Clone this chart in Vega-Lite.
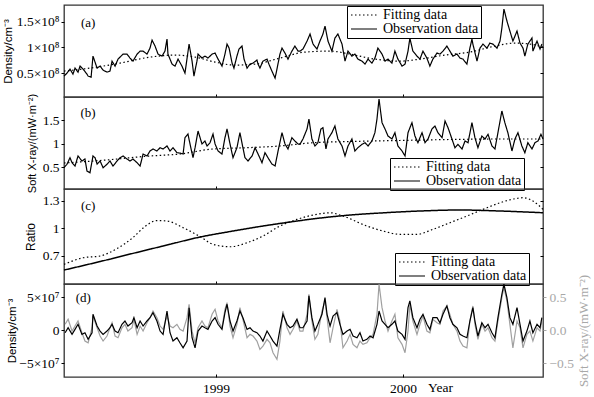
{
"$schema": "https://vega.github.io/schema/vega-lite/v6.json",
"padding": {"left": 1, "top": 4, "right": 2, "bottom": 2},
"bounds": "flush",
"spacing": 0,
"config": {
  "view": {"stroke": "#333", "strokeWidth": 1.3},
  "axis": {"grid": false, "domain": false, "labelFont": "Liberation Serif", "labelFontSize": 13.5, "labelColor": "black", "tickColor": "black", "tickSize": 3, "labelPadding": 2, "titleFont": "Liberation Sans", "titleFontSize": 12, "titleFontWeight": "normal", "titleColor": "black", "titlePadding": 4},
  "legend": {"labelFont": "Liberation Serif", "labelFontSize": 14, "labelColor": "black"}
},
"resolve": {"scale": {"strokeDash": "independent"}, "legend": {"strokeDash": "independent"}},
"datasets": {
"a_obs": [{"t":1998.187,"v":4.44e7},{"t":1998.203,"v":5.02e7},{"t":1998.219,"v":5.79e7},{"t":1998.235,"v":4.83e7},{"t":1998.246,"v":5.99e7},{"t":1998.262,"v":5.21e7},{"t":1998.273,"v":6.38e7},{"t":1998.289,"v":5.79e7},{"t":1998.31,"v":4.83e7},{"t":1998.316,"v":4.44e7},{"t":1998.332,"v":4.24e7},{"t":1998.342,"v":8.31e7},{"t":1998.364,"v":5.99e7},{"t":1998.38,"v":6.38e7},{"t":1998.396,"v":5.6e7},{"t":1998.417,"v":5.21e7},{"t":1998.433,"v":5.41e7},{"t":1998.444,"v":7.34e7},{"t":1998.46,"v":6.38e7},{"t":1998.476,"v":7.73e7},{"t":1998.492,"v":8.31e7},{"t":1998.503,"v":8.7e7},{"t":1998.524,"v":8.7e7},{"t":1998.54,"v":7.93e7},{"t":1998.556,"v":7.34e7},{"t":1998.578,"v":8.7e7},{"t":1998.594,"v":9.28e7},{"t":1998.61,"v":9.28e7},{"t":1998.631,"v":8.7e7},{"t":1998.647,"v":9.86e7},{"t":1998.658,"v":11.41e7},{"t":1998.674,"v":10.25e7},{"t":1998.69,"v":8.7e7},{"t":1998.711,"v":8.31e7},{"t":1998.727,"v":9.28e7},{"t":1998.738,"v":11.61e7},{"t":1998.743,"v":8.7e7},{"t":1998.765,"v":6.76e7},{"t":1998.781,"v":6.38e7},{"t":1998.797,"v":7.73e7},{"t":1998.818,"v":6.38e7},{"t":1998.834,"v":5.02e7},{"t":1998.856,"v":10.64e7},{"t":1998.872,"v":7.34e7},{"t":1998.882,"v":4.44e7},{"t":1998.898,"v":7.34e7},{"t":1998.904,"v":8.7e7},{"t":1998.925,"v":7.93e7},{"t":1998.941,"v":8.31e7},{"t":1998.957,"v":7.93e7},{"t":1998.979,"v":8.7e7},{"t":1998.995,"v":8.9e7},{"t":1999.011,"v":7.73e7},{"t":1999.032,"v":6.38e7},{"t":1999.048,"v":8.7e7},{"t":1999.059,"v":10.64e7},{"t":1999.07,"v":9.86e7},{"t":1999.086,"v":6.96e7},{"t":1999.096,"v":5.99e7},{"t":1999.112,"v":8.31e7},{"t":1999.123,"v":9.67e7},{"t":1999.139,"v":10.25e7},{"t":1999.15,"v":7.73e7},{"t":1999.166,"v":5.99e7},{"t":1999.182,"v":6.76e7},{"t":1999.198,"v":6.96e7},{"t":1999.219,"v":7.54e7},{"t":1999.225,"v":6.76e7},{"t":1999.235,"v":5.99e7},{"t":1999.251,"v":7.34e7},{"t":1999.273,"v":7.73e7},{"t":1999.283,"v":6.76e7},{"t":1999.299,"v":5.41e7},{"t":1999.316,"v":4.05e7},{"t":1999.326,"v":5.79e7},{"t":1999.342,"v":8.7e7},{"t":1999.353,"v":9.86e7},{"t":1999.369,"v":8.9e7},{"t":1999.385,"v":7.73e7},{"t":1999.406,"v":9.28e7},{"t":1999.422,"v":10.25e7},{"t":1999.439,"v":9.28e7},{"t":1999.449,"v":9.28e7},{"t":1999.465,"v":9.67e7},{"t":1999.487,"v":11.22e7},{"t":1999.503,"v":12.58e7},{"t":1999.519,"v":10.64e7},{"t":1999.54,"v":9.67e7},{"t":1999.556,"v":11.22e7},{"t":1999.572,"v":12.58e7},{"t":1999.583,"v":14.13e7},{"t":1999.599,"v":11.22e7},{"t":1999.62,"v":9.28e7},{"t":1999.636,"v":11.8e7},{"t":1999.652,"v":12.58e7},{"t":1999.674,"v":10.64e7},{"t":1999.69,"v":7.34e7},{"t":1999.706,"v":9.28e7},{"t":1999.727,"v":8.31e7},{"t":1999.743,"v":8.7e7},{"t":1999.759,"v":7.73e7},{"t":1999.781,"v":7.34e7},{"t":1999.797,"v":6.76e7},{"t":1999.813,"v":7.73e7},{"t":1999.834,"v":6.96e7},{"t":1999.85,"v":7.93e7},{"t":1999.866,"v":9.86e7},{"t":1999.888,"v":8.7e7},{"t":1999.904,"v":7.34e7},{"t":1999.92,"v":7.73e7},{"t":1999.941,"v":6.96e7},{"t":1999.957,"v":9.28e7},{"t":1999.973,"v":7.73e7},{"t":1999.995,"v":6.38e7},{"t":2000.011,"v":6.76e7},{"t":2000.027,"v":9.28e7},{"t":2000.037,"v":11.8e7},{"t":2000.053,"v":9.28e7},{"t":2000.075,"v":8.31e7},{"t":2000.091,"v":7.73e7},{"t":2000.107,"v":9.28e7},{"t":2000.128,"v":7.93e7},{"t":2000.144,"v":6.38e7},{"t":2000.16,"v":7.73e7},{"t":2000.182,"v":8.9e7},{"t":2000.198,"v":8.7e7},{"t":2000.214,"v":9.28e7},{"t":2000.235,"v":10.25e7},{"t":2000.251,"v":9.28e7},{"t":2000.267,"v":8.31e7},{"t":2000.289,"v":8.7e7},{"t":2000.305,"v":7.93e7},{"t":2000.321,"v":7.73e7},{"t":2000.342,"v":6.76e7},{"t":2000.358,"v":9.86e7},{"t":2000.369,"v":11.61e7},{"t":2000.374,"v":10.64e7},{"t":2000.396,"v":7.34e7},{"t":2000.412,"v":9.86e7},{"t":2000.428,"v":10.64e7},{"t":2000.449,"v":9.86e7},{"t":2000.465,"v":10.83e7},{"t":2000.481,"v":10.64e7},{"t":2000.503,"v":9.86e7},{"t":2000.519,"v":11.22e7},{"t":2000.529,"v":13.74e7},{"t":2000.54,"v":17.42e7},{"t":2000.556,"v":15.1e7},{"t":2000.572,"v":13.16e7},{"t":2000.588,"v":11.22e7},{"t":2000.61,"v":13.16e7},{"t":2000.626,"v":10.83e7},{"t":2000.642,"v":9.86e7},{"t":2000.652,"v":8.31e7},{"t":2000.668,"v":10.64e7},{"t":2000.69,"v":11.8e7},{"t":2000.695,"v":9.28e7},{"t":2000.717,"v":11.22e7},{"t":2000.733,"v":9.67e7},{"t":2000.743,"v":10.64e7}],
"a_fit": [{"t":1998.187,"v":5.41e7},{"t":1998.326,"v":5.99e7},{"t":1998.487,"v":6.96e7},{"t":1998.647,"v":8.12e7},{"t":1998.781,"v":8.51e7},{"t":1998.888,"v":8.12e7},{"t":1998.995,"v":7.15e7},{"t":1999.102,"v":6.57e7},{"t":1999.209,"v":6.76e7},{"t":1999.342,"v":7.93e7},{"t":1999.476,"v":9.09e7},{"t":1999.61,"v":9.28e7},{"t":1999.717,"v":8.7e7},{"t":1999.85,"v":7.73e7},{"t":1999.984,"v":7.34e7},{"t":2000.091,"v":7.73e7},{"t":2000.225,"v":8.51e7},{"t":2000.358,"v":9.09e7},{"t":2000.492,"v":10.25e7},{"t":2000.599,"v":10.83e7},{"t":2000.679,"v":10.64e7},{"t":2000.749,"v":10.06e7}],
"b_obs": [{"t":1998.187,"v":0.486},{"t":1998.203,"v":0.559},{"t":1998.219,"v":0.7},{"t":1998.23,"v":0.593},{"t":1998.246,"v":0.522},{"t":1998.262,"v":0.737},{"t":1998.283,"v":0.63},{"t":1998.299,"v":0.672},{"t":1998.31,"v":0.415},{"t":1998.326,"v":0.379},{"t":1998.342,"v":0.737},{"t":1998.353,"v":0.7},{"t":1998.364,"v":0.565},{"t":1998.38,"v":0.63},{"t":1998.396,"v":0.486},{"t":1998.417,"v":0.559},{"t":1998.433,"v":0.63},{"t":1998.449,"v":0.522},{"t":1998.471,"v":0.63},{"t":1998.487,"v":0.7},{"t":1998.503,"v":0.737},{"t":1998.524,"v":0.672},{"t":1998.54,"v":0.63},{"t":1998.556,"v":0.672},{"t":1998.578,"v":0.593},{"t":1998.594,"v":0.522},{"t":1998.61,"v":0.779},{"t":1998.631,"v":0.737},{"t":1998.647,"v":0.844},{"t":1998.663,"v":0.887},{"t":1998.684,"v":0.844},{"t":1998.701,"v":0.914},{"t":1998.717,"v":0.887},{"t":1998.738,"v":0.951},{"t":1998.754,"v":0.844},{"t":1998.77,"v":0.914},{"t":1998.791,"v":0.807},{"t":1998.807,"v":0.8},{"t":1998.824,"v":0.779},{"t":1998.834,"v":1.128},{"t":1998.85,"v":1.208},{"t":1998.861,"v":0.994},{"t":1998.877,"v":0.7},{"t":1998.888,"v":0.914},{"t":1998.904,"v":1.272},{"t":1998.925,"v":0.994},{"t":1998.941,"v":1.058},{"t":1998.952,"v":0.951},{"t":1998.968,"v":1.021},{"t":1998.984,"v":1.208},{"t":1998.995,"v":0.994},{"t":1999.011,"v":0.844},{"t":1999.032,"v":0.779},{"t":1999.048,"v":1.128},{"t":1999.059,"v":1.315},{"t":1999.075,"v":0.994},{"t":1999.091,"v":0.7},{"t":1999.112,"v":0.914},{"t":1999.128,"v":1.236},{"t":1999.144,"v":0.914},{"t":1999.155,"v":0.7},{"t":1999.171,"v":0.63},{"t":1999.193,"v":0.737},{"t":1999.209,"v":0.914},{"t":1999.225,"v":0.779},{"t":1999.246,"v":0.593},{"t":1999.262,"v":0.807},{"t":1999.278,"v":0.7},{"t":1999.299,"v":0.565},{"t":1999.316,"v":0.522},{"t":1999.332,"v":0.844},{"t":1999.353,"v":1.236},{"t":1999.369,"v":0.994},{"t":1999.385,"v":0.887},{"t":1999.406,"v":1.128},{"t":1999.422,"v":1.058},{"t":1999.439,"v":0.994},{"t":1999.449,"v":0.987},{"t":1999.465,"v":1.101},{"t":1999.487,"v":1.315},{"t":1999.497,"v":1.529},{"t":1999.513,"v":1.101},{"t":1999.529,"v":0.951},{"t":1999.545,"v":1.021},{"t":1999.561,"v":1.315},{"t":1999.572,"v":1.343},{"t":1999.588,"v":0.887},{"t":1999.599,"v":1.101},{"t":1999.62,"v":1.236},{"t":1999.636,"v":1.379},{"t":1999.652,"v":1.101},{"t":1999.674,"v":0.951},{"t":1999.69,"v":0.737},{"t":1999.706,"v":0.951},{"t":1999.727,"v":1.101},{"t":1999.743,"v":0.844},{"t":1999.759,"v":0.914},{"t":1999.781,"v":0.987},{"t":1999.797,"v":1.021},{"t":1999.813,"v":0.951},{"t":1999.834,"v":1.058},{"t":1999.85,"v":1.236},{"t":1999.861,"v":1.529},{"t":1999.872,"v":1.957},{"t":1999.888,"v":1.45},{"t":1999.904,"v":1.315},{"t":1999.92,"v":1.165},{"t":1999.941,"v":1.101},{"t":1999.957,"v":1.236},{"t":1999.973,"v":0.951},{"t":1999.995,"v":0.844},{"t":2000.011,"v":0.737},{"t":2000.027,"v":1.236},{"t":2000.048,"v":1.45},{"t":2000.064,"v":1.165},{"t":2000.08,"v":1.021},{"t":2000.102,"v":1.236},{"t":2000.118,"v":1.021},{"t":2000.134,"v":1.101},{"t":2000.155,"v":1.315},{"t":2000.171,"v":1.379},{"t":2000.187,"v":1.236},{"t":2000.209,"v":1.128},{"t":2000.225,"v":1.486},{"t":2000.241,"v":1.343},{"t":2000.262,"v":1.101},{"t":2000.278,"v":0.914},{"t":2000.294,"v":0.987},{"t":2000.316,"v":0.887},{"t":2000.332,"v":1.058},{"t":2000.348,"v":1.021},{"t":2000.369,"v":1.45},{"t":2000.385,"v":1.128},{"t":2000.401,"v":0.914},{"t":2000.422,"v":1.165},{"t":2000.439,"v":1.101},{"t":2000.455,"v":1.201},{"t":2000.476,"v":0.951},{"t":2000.492,"v":0.887},{"t":2000.508,"v":1.236},{"t":2000.529,"v":1.7},{"t":2000.545,"v":1.45},{"t":2000.561,"v":1.236},{"t":2000.583,"v":0.844},{"t":2000.599,"v":1.101},{"t":2000.615,"v":1.236},{"t":2000.636,"v":0.951},{"t":2000.652,"v":0.807},{"t":2000.668,"v":1.021},{"t":2000.69,"v":0.887},{"t":2000.706,"v":1.021},{"t":2000.722,"v":1.058},{"t":2000.738,"v":1.201},{"t":2000.749,"v":1.101}],
"b_fit": [{"t":1998.187,"v":0.587},{"t":1998.38,"v":0.64},{"t":1998.647,"v":0.737},{"t":1998.807,"v":0.779},{"t":1998.984,"v":0.887},{"t":1999.166,"v":0.914},{"t":1999.342,"v":0.951},{"t":1999.519,"v":1.021},{"t":1999.717,"v":1.047},{"t":1999.984,"v":1.069},{"t":2000.251,"v":1.09},{"t":2000.519,"v":1.101},{"t":2000.749,"v":1.101}],
"c_obs": [{"t":1998.187,"v":0.545},{"t":1998.38,"v":0.638},{"t":1998.556,"v":0.727},{"t":1998.738,"v":0.818},{"t":1998.914,"v":0.905},{"t":1999.075,"v":0.965},{"t":1999.235,"v":1.02},{"t":1999.396,"v":1.069},{"t":1999.556,"v":1.112},{"t":1999.717,"v":1.145},{"t":1999.877,"v":1.167},{"t":2000.091,"v":1.189},{"t":2000.305,"v":1.2},{"t":2000.519,"v":1.189},{"t":2000.749,"v":1.17}],
"c_fit": [{"t":1998.187,"v":0.607},{"t":1998.289,"v":0.679},{"t":1998.38,"v":0.698},{"t":1998.471,"v":0.78},{"t":1998.556,"v":0.9},{"t":1998.62,"v":1.02},{"t":1998.684,"v":1.085},{"t":1998.738,"v":1.08},{"t":1998.824,"v":1.007},{"t":1998.914,"v":0.911},{"t":1998.984,"v":0.826},{"t":1999.075,"v":0.799},{"t":1999.166,"v":0.843},{"t":1999.251,"v":0.916},{"t":1999.342,"v":1.025},{"t":1999.433,"v":1.098},{"t":1999.54,"v":1.153},{"t":1999.61,"v":1.17},{"t":1999.679,"v":1.134},{"t":1999.807,"v":1.025},{"t":1999.893,"v":0.971},{"t":1999.984,"v":0.935},{"t":2000.075,"v":0.935},{"t":2000.16,"v":0.989},{"t":2000.251,"v":1.061},{"t":2000.342,"v":1.134},{"t":2000.428,"v":1.207},{"t":2000.519,"v":1.279},{"t":2000.61,"v":1.327},{"t":2000.642,"v":1.334},{"t":2000.695,"v":1.298},{"t":2000.749,"v":1.207}],
"d": [{"t":1998.193,"density":-0.36e7,"xray":0.091},{"t":1998.209,"density":0.39e7,"xray":0.167},{"t":1998.23,"density":-0.61e7,"xray":-0.011},{"t":1998.246,"density":0.15e7,"xray":0.065},{"t":1998.262,"density":0.91e7,"xray":0.141},{"t":1998.283,"density":-0.61e7,"xray":-0.036},{"t":1998.299,"density":-0.36e7,"xray":-0.162},{"t":1998.316,"density":-1.36e7,"xray":-0.188},{"t":1998.337,"density":-0.36e7,"xray":0.039},{"t":1998.342,"density":2.42e7,"xray":0.217},{"t":1998.364,"density":0.65e7,"xray":0.039},{"t":1998.38,"density":-0.11e7,"xray":-0.086},{"t":1998.396,"density":-0.61e7,"xray":-0.162},{"t":1998.417,"density":-0.11e7,"xray":-0.086},{"t":1998.433,"density":0.39e7,"xray":0.039},{"t":1998.444,"density":0.91e7,"xray":0.115},{"t":1998.46,"density":-0.11e7,"xray":-0.086},{"t":1998.476,"density":-0.36e7,"xray":-0.112},{"t":1998.497,"density":0.91e7,"xray":0.039},{"t":1998.513,"density":1.41e7,"xray":0.091},{"t":1998.529,"density":0.65e7,"xray":-0.011},{"t":1998.551,"density":1.15e7,"xray":0.039},{"t":1998.561,"density":1.91e7,"xray":0.167},{"t":1998.578,"density":0.39e7,"xray":-0.061},{"t":1998.594,"density":1.41e7,"xray":0.065},{"t":1998.61,"density":0.65e7,"xray":-0.011},{"t":1998.631,"density":1.41e7,"xray":0.115},{"t":1998.647,"density":1.91e7,"xray":0.191},{"t":1998.663,"density":2.67e7,"xray":0.292},{"t":1998.684,"density":1.41e7,"xray":0.191},{"t":1998.701,"density":-0.11e7,"xray":0.065},{"t":1998.717,"density":-0.61e7,"xray":0.015},{"t":1998.738,"density":2.92e7,"xray":0.217},{"t":1998.754,"density":-0.36e7,"xray":0.065},{"t":1998.77,"density":-1.62e7,"xray":0.039},{"t":1998.791,"density":-1.12e7,"xray":0.091},{"t":1998.807,"density":-1.88e7,"xray":0.015},{"t":1998.824,"density":-2.64e7,"xray":-0.011},{"t":1998.845,"density":-1.62e7,"xray":0.191},{"t":1998.856,"density":3.42e7,"xray":0.394},{"t":1998.872,"density":-1.12e7,"xray":-0.011},{"t":1998.888,"density":-2.64e7,"xray":-0.188},{"t":1998.904,"density":-0.11e7,"xray":0.039},{"t":1998.925,"density":0.65e7,"xray":0.141},{"t":1998.941,"density":0.39e7,"xray":0.065},{"t":1998.957,"density":0.15e7,"xray":0.039},{"t":1998.979,"density":1.41e7,"xray":0.242},{"t":1998.995,"density":1.91e7,"xray":0.318},{"t":1999.011,"density":0.91e7,"xray":0.141},{"t":1999.032,"density":0.15e7,"xray":0.039},{"t":1999.048,"density":2.67e7,"xray":0.318},{"t":1999.059,"density":3.94e7,"xray":0.418},{"t":1999.075,"density":1.41e7,"xray":0.065},{"t":1999.091,"density":-0.11e7,"xray":-0.112},{"t":1999.112,"density":1.41e7,"xray":0.091},{"t":1999.128,"density":2.92e7,"xray":0.342},{"t":1999.144,"density":1.91e7,"xray":0.167},{"t":1999.166,"density":0.15e7,"xray":-0.112},{"t":1999.182,"density":0.39e7,"xray":-0.061},{"t":1999.198,"density":-0.11e7,"xray":-0.086},{"t":1999.219,"density":-0.36e7,"xray":-0.162},{"t":1999.235,"density":-0.86e7,"xray":-0.288},{"t":1999.251,"density":-1.62e7,"xray":-0.238},{"t":1999.273,"density":-0.11e7,"xray":-0.136},{"t":1999.289,"density":-0.86e7,"xray":-0.188},{"t":1999.305,"density":-1.62e7,"xray":-0.339},{"t":1999.326,"density":-2.38e7,"xray":-0.439},{"t":1999.342,"density":0.15e7,"xray":-0.162},{"t":1999.358,"density":2.42e7,"xray":0.292},{"t":1999.38,"density":0.91e7,"xray":0.039},{"t":1999.396,"density":0.39e7,"xray":-0.061},{"t":1999.412,"density":0.65e7,"xray":0.015},{"t":1999.433,"density":1.67e7,"xray":0.141},{"t":1999.449,"density":0.39e7,"xray":-0.011},{"t":1999.465,"density":0.39e7,"xray":-0.011},{"t":1999.487,"density":1.41e7,"xray":0.242},{"t":1999.497,"density":5.2e7,"xray":0.545},{"t":1999.513,"density":1.91e7,"xray":0.141},{"t":1999.529,"density":-0.11e7,"xray":-0.136},{"t":1999.545,"density":0.91e7,"xray":-0.061},{"t":1999.567,"density":2.42e7,"xray":0.292},{"t":1999.583,"density":4.94e7,"xray":0.444},{"t":1999.594,"density":2.42e7,"xray":0.191},{"t":1999.61,"density":0.65e7,"xray":-0.188},{"t":1999.626,"density":2.17e7,"xray":0.039},{"t":1999.647,"density":2.67e7,"xray":0.318},{"t":1999.663,"density":0.91e7,"xray":0.141},{"t":1999.679,"density":-0.61e7,"xray":-0.264},{"t":1999.701,"density":-0.11e7,"xray":-0.162},{"t":1999.717,"density":0.15e7,"xray":-0.061},{"t":1999.733,"density":-0.86e7,"xray":-0.212},{"t":1999.754,"density":-1.12e7,"xray":-0.264},{"t":1999.77,"density":-0.36e7,"xray":-0.162},{"t":1999.786,"density":-1.62e7,"xray":-0.212},{"t":1999.807,"density":-1.36e7,"xray":-0.188},{"t":1999.824,"density":-0.86e7,"xray":-0.112},{"t":1999.84,"density":-1.12e7,"xray":-0.061},{"t":1999.861,"density":0.91e7,"xray":0.242},{"t":1999.872,"density":2.92e7,"xray":0.697},{"t":1999.888,"density":1.41e7,"xray":0.342},{"t":1999.904,"density":0.91e7,"xray":0.141},{"t":1999.92,"density":0.39e7,"xray":-0.011},{"t":1999.941,"density":0.91e7,"xray":0.141},{"t":1999.957,"density":1.41e7,"xray":0.242},{"t":1999.973,"density":-0.11e7,"xray":-0.112},{"t":1999.995,"density":-0.61e7,"xray":-0.212},{"t":2000.011,"density":-1.36e7,"xray":-0.339},{"t":2000.027,"density":3.42e7,"xray":-0.011},{"t":2000.037,"density":4.44e7,"xray":0.394},{"t":2000.053,"density":1.91e7,"xray":0.141},{"t":2000.075,"density":0.39e7,"xray":-0.061},{"t":2000.091,"density":1.67e7,"xray":0.091},{"t":2000.107,"density":2.42e7,"xray":0.217},{"t":2000.128,"density":0.91e7,"xray":-0.011},{"t":2000.144,"density":0.15e7,"xray":-0.036},{"t":2000.16,"density":1.91e7,"xray":0.167},{"t":2000.182,"density":1.91e7,"xray":0.115},{"t":2000.198,"density":1.15e7,"xray":0.091},{"t":2000.214,"density":2.42e7,"xray":0.292},{"t":2000.235,"density":3.68e7,"xray":0.368},{"t":2000.251,"density":1.91e7,"xray":0.242},{"t":2000.267,"density":0.91e7,"xray":0.091},{"t":2000.289,"density":0.39e7,"xray":-0.011},{"t":2000.305,"density":-0.61e7,"xray":-0.162},{"t":2000.321,"density":-0.86e7,"xray":-0.238},{"t":2000.342,"density":-1.12e7,"xray":-0.264},{"t":2000.358,"density":1.41e7,"xray":0.141},{"t":2000.374,"density":3.42e7,"xray":0.368},{"t":2000.385,"density":1.41e7,"xray":0.091},{"t":2000.401,"density":-0.86e7,"xray":-0.136},{"t":2000.422,"density":1.15e7,"xray":0.091},{"t":2000.439,"density":0.39e7,"xray":-0.011},{"t":2000.455,"density":0.91e7,"xray":0.039},{"t":2000.476,"density":-0.36e7,"xray":-0.112},{"t":2000.492,"density":-1.12e7,"xray":-0.162},{"t":2000.508,"density":1.91e7,"xray":0.141},{"t":2000.529,"density":5.45e7,"xray":0.494},{"t":2000.54,"density":6.97e7,"xray":0.645},{"t":2000.556,"density":4.94e7,"xray":0.444},{"t":2000.572,"density":1.91e7,"xray":0.091},{"t":2000.588,"density":0.91e7,"xray":-0.264},{"t":2000.61,"density":3.42e7,"xray":0.141},{"t":2000.626,"density":0.91e7,"xray":0.039},{"t":2000.642,"density":-1.62e7,"xray":-0.264},{"t":2000.663,"density":-0.11e7,"xray":-0.061},{"t":2000.679,"density":1.41e7,"xray":-0.011},{"t":2000.695,"density":-0.36e7,"xray":-0.162},{"t":2000.717,"density":0.91e7,"xray":0.039},{"t":2000.733,"density":0.39e7,"xray":-0.011},{"t":2000.743,"density":1.91e7,"xray":0.141}]
},
"vconcat": [
{
 "width": 479, "height": 92,
 "layer": [
  {"data": {"name": "a_fit"},
   "mark": {"type": "line", "color": "black", "strokeWidth": 1.2, "interpolate": "monotone"},
   "encoding": {
    "x": {"field": "t", "type": "quantitative", "scale": {"domain": [1998.187, 2000.749], "nice": false, "zero": false}, "axis": {"values": [1999, 2000], "labels": false, "title": null, "offset": -3}},
    "y": {"field": "v", "type": "quantitative", "scale": {"domain": [4e6, 1.82e8], "nice": false, "zero": false}, "axis": {"orient": "right", "values": [5e7, 1e8, 1.5e8], "labels": false, "title": null, "offset": -3}},
    "strokeDash": {"datum": "Fitting data", "type": "nominal", "scale": {"domain": ["Fitting data", "Observation data"], "range": [[1.5, 2.5], [1, 0]]}, "legend": {"title": null, "orient": "none", "legendX": 283, "legendY": 1, "strokeColor": "black", "fillColor": "white", "padding": 2, "symbolType": "M-1,0H4.2", "symbolSize": 100, "symbolStrokeWidth": 1.2, "symbolStrokeColor": "black", "labelFont": "Liberation Serif", "labelFontSize": 14, "labelColor": "black", "rowPadding": 0, "labelOffset": 20}}
   }},
  {"data": {"name": "a_obs"},
   "mark": {"type": "line", "color": "black", "strokeWidth": 1.2},
   "encoding": {
    "x": {"field": "t", "type": "quantitative"},
    "y": {"field": "v", "type": "quantitative", "axis": {"orient": "left", "values": [5e7, 1e8, 1.5e8], "labelExpr": "format(datum.value/1e8, '~g') + '×10⁸'", "title": "Density/cm⁻³", "titleFontSize": 11.5, "minExtent": 47, "maxExtent": 47}},
    "strokeDash": {"datum": "Observation data", "type": "nominal", "legend": {"title": null, "orient": "none", "legendX": 283, "legendY": 1, "strokeColor": "black", "fillColor": "white", "padding": 2, "symbolType": "M-1,0H4.2", "symbolSize": 100, "symbolStrokeWidth": 1.2, "symbolStrokeColor": "black", "labelFont": "Liberation Serif", "labelFontSize": 14, "labelColor": "black", "rowPadding": 0, "labelOffset": 20}}
   }},
  {"data": {"values": [{"t": 1998.316, "v": 1.47e8, "label": "(a)"}]},
   "mark": {"type": "text", "font": "Liberation Serif", "fontSize": 13},
   "encoding": {"x": {"field": "t", "type": "quantitative"}, "y": {"field": "v", "type": "quantitative", "axis": null}, "text": {"field": "label"}}}
 ]
},
{
 "width": 479, "height": 92,
 "layer": [
  {"data": {"name": "b_fit"},
   "mark": {"type": "line", "color": "black", "strokeWidth": 1.2, "interpolate": "monotone"},
   "encoding": {
    "x": {"field": "t", "type": "quantitative", "scale": {"domain": [1998.187, 2000.749], "nice": false, "zero": false}, "axis": {"values": [1999, 2000], "labels": false, "title": null, "offset": -3}},
    "y": {"field": "v", "type": "quantitative", "scale": {"domain": [0.03, 2.0], "nice": false, "zero": false}, "axis": {"orient": "right", "values": [0.5, 1, 1.5], "labels": false, "title": null, "offset": -3}},
    "strokeDash": {"datum": "Fitting data", "type": "nominal", "scale": {"domain": ["Fitting data", "Observation data"], "range": [[1.5, 2.5], [1, 0]]}, "legend": {"title": null, "orient": "none", "legendX": 326, "legendY": 61, "strokeColor": "black", "fillColor": "white", "padding": 2, "symbolType": "M-1,0H4.2", "symbolSize": 100, "symbolStrokeWidth": 1.2, "symbolStrokeColor": "black", "labelFont": "Liberation Serif", "labelFontSize": 14, "labelColor": "black", "rowPadding": 0, "labelOffset": 20}}
   }},
  {"data": {"name": "b_obs"},
   "mark": {"type": "line", "color": "black", "strokeWidth": 1.2},
   "encoding": {
    "x": {"field": "t", "type": "quantitative"},
    "y": {"field": "v", "type": "quantitative", "axis": {"orient": "left", "values": [0.5, 1, 1.5], "labelExpr": "format(datum.value, '~g')", "title": "Soft X-ray/(mW·m⁻²)", "titleFontSize": 11, "titleBaseline": "bottom", "minExtent": 23, "maxExtent": 23}},
    "strokeDash": {"datum": "Observation data", "type": "nominal", "legend": {"title": null, "orient": "none", "legendX": 326, "legendY": 61, "strokeColor": "black", "fillColor": "white", "padding": 2, "symbolType": "M-1,0H4.2", "symbolSize": 100, "symbolStrokeWidth": 1.2, "symbolStrokeColor": "black", "labelFont": "Liberation Serif", "labelFontSize": 14, "labelColor": "black", "rowPadding": 0, "labelOffset": 20}}
   }},
  {"data": {"values": [{"t": 1998.316, "v": 1.66, "label": "(b)"}]},
   "mark": {"type": "text", "font": "Liberation Serif", "fontSize": 13},
   "encoding": {"x": {"field": "t", "type": "quantitative"}, "y": {"field": "v", "type": "quantitative", "axis": null}, "text": {"field": "label"}}}
 ]
},
{
 "width": 479, "height": 95,
 "layer": [
  {"data": {"name": "c_fit"},
   "mark": {"type": "line", "color": "black", "strokeWidth": 1.2, "interpolate": "monotone"},
   "encoding": {
    "x": {"field": "t", "type": "quantitative", "scale": {"domain": [1998.187, 2000.749], "nice": false, "zero": false}, "axis": {"values": [1999, 2000], "labels": false, "title": null, "offset": -3}},
    "y": {"field": "v", "type": "quantitative", "scale": {"domain": [0.393, 1.429], "nice": false, "zero": false}, "axis": {"orient": "right", "values": [0.7, 1, 1.3], "labels": false, "title": null, "offset": -3}},
    "strokeDash": {"datum": "Fitting data", "type": "nominal", "scale": {"domain": ["Fitting data", "Observation data"], "range": [[1.5, 2.5], [1, 0]]}, "legend": {"title": null, "orient": "none", "legendX": 331, "legendY": 64, "strokeColor": "black", "fillColor": "white", "padding": 2, "symbolType": "M-1,0H4.2", "symbolSize": 100, "symbolStrokeWidth": 1.2, "symbolStrokeColor": "black", "labelFont": "Liberation Serif", "labelFontSize": 14, "labelColor": "black", "rowPadding": 0, "labelOffset": 20}}
   }},
  {"data": {"name": "c_obs"},
   "mark": {"type": "line", "color": "black", "strokeWidth": 1.5, "interpolate": "monotone"},
   "encoding": {
    "x": {"field": "t", "type": "quantitative"},
    "y": {"field": "v", "type": "quantitative", "axis": {"orient": "left", "values": [0.7, 1, 1.3], "labelExpr": "format(datum.value, '~g')", "title": "Ratio", "titleBaseline": "bottom", "minExtent": 23, "maxExtent": 23}},
    "strokeDash": {"datum": "Observation data", "type": "nominal", "legend": {"title": null, "orient": "none", "legendX": 331, "legendY": 64, "strokeColor": "black", "fillColor": "white", "padding": 2, "symbolType": "M-1,0H4.2", "symbolSize": 100, "symbolStrokeWidth": 1.2, "symbolStrokeColor": "black", "labelFont": "Liberation Serif", "labelFontSize": 14, "labelColor": "black", "rowPadding": 0, "labelOffset": 20}}
   }},
  {"data": {"values": [{"t": 1998.316, "v": 1.243, "label": "(c)"}]},
   "mark": {"type": "text", "font": "Liberation Serif", "fontSize": 13},
   "encoding": {"x": {"field": "t", "type": "quantitative"}, "y": {"field": "v", "type": "quantitative", "axis": null}, "text": {"field": "label"}}}
 ]
},
{
 "width": 479, "height": 93,
 "data": {"name": "d"},
 "resolve": {"scale": {"y": "independent"}},
 "layer": [
  {"mark": {"type": "line", "color": "#a0a0a0", "strokeWidth": 1.2},
   "encoding": {
    "x": {"field": "t", "type": "quantitative", "scale": {"domain": [1998.187, 2000.749], "nice": false, "zero": false}, "axis": {"values": [1999, 2000], "format": "d", "offset": -3, "labelPadding": 4, "title": "Year", "titleFont": "Liberation Serif", "titleFontSize": 13.5, "titleX": 376, "titleY": 17, "titleBaseline": "alphabetic", "titleAlign": "center"}},
    "y": {"field": "xray", "type": "quantitative", "scale": {"domain": [-0.705, 0.7], "nice": false, "zero": false}, "axis": {"orient": "right", "values": [-0.5, 0, 0.5], "title": "Soft X-ray/(mW·m⁻²)", "titleFont": "Liberation Serif", "titleFontSize": 13, "titleAngle": 270, "titleBaseline": "top", "titleColor": "#a8a8a8", "labelColor": "#a8a8a8", "tickColor": "#a8a8a8", "labelPadding": 3, "minExtent": 30, "maxExtent": 30}}
   }},
  {"mark": {"type": "line", "color": "black", "strokeWidth": 1.2},
   "encoding": {
    "x": {"field": "t", "type": "quantitative"},
    "y": {"field": "density", "type": "quantitative", "scale": {"domain": [-7.05e7, 7.0e7], "nice": false, "zero": false}, "axis": {"orient": "left", "values": [-5e7, 0, 5e7], "labelExpr": "datum.value == 0 ? '0' : format(datum.value/1e7, '~g') + '×10⁷'", "title": "Density/cm⁻³", "titleFontSize": 11.5, "minExtent": 43, "maxExtent": 43}}
   }},
  {"data": {"values": [{"t": 1998.29, "v": 4.9e7, "label": "(d)"}]},
   "mark": {"type": "text", "font": "Liberation Serif", "fontSize": 13},
   "encoding": {"x": {"field": "t", "type": "quantitative"}, "y": {"field": "v", "type": "quantitative", "scale": {"domain": [-7.05e7, 7.0e7], "nice": false, "zero": false}, "axis": null}, "text": {"field": "label"}}}
 ]
}
]
}
